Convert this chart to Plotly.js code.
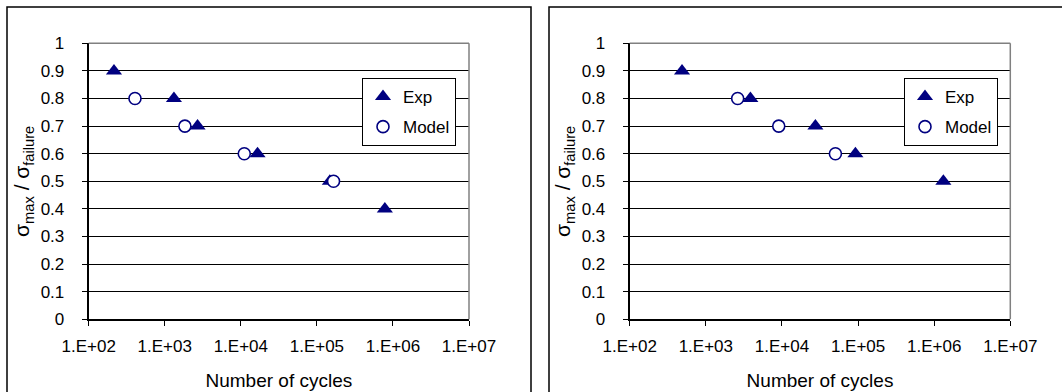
<!DOCTYPE html>
<html>
<head>
<meta charset="utf-8">
<script src="https://cdn.plot.ly/plotly-3.0.1.min.js"></script>
<style>html,body{margin:0;padding:0;background:#fff;}#chart{width:1062px;height:392px;}</style>
</head>
<body>
<div id="chart"></div>
<script>
// ---- data ----
const leftExpCycles   = [215, 1320, 2700, 16600, 148000, 783000];
const leftExpRatio    = [0.9, 0.8, 0.7, 0.6, 0.5, 0.4];
const leftModelCycles = [406, 1840, 11100, 165600];
const leftModelRatio  = [0.8, 0.7, 0.6, 0.5];

const rightExpCycles   = [487, 3850, 27500, 92300, 1320000];
const rightExpRatio    = [0.9, 0.8, 0.7, 0.6, 0.5];
const rightModelCycles = [2620, 9080, 50400];
const rightModelRatio  = [0.8, 0.7, 0.6];

const xTickVals = [1e2, 1e3, 1e4, 1e5, 1e6, 1e7];
const xTickText = ['1.E+02', '1.E+03', '1.E+04', '1.E+05', '1.E+06', '1.E+07'];
const yTickVals = [0, 0.1, 0.2, 0.3, 0.4, 0.5, 0.6, 0.7, 0.8, 0.9, 1];
const yTickText = ['0', '0.1', '0.2', '0.3', '0.4', '0.5', '0.6', '0.7', '0.8', '0.9', '1'];
const seriesNames = ['Exp', 'Model'];
const xTitle = 'Number of cycles';
const yTitle = 'σ<sub>max</sub> / σ<sub>failure</sub>';

// ---- styles ----
const NAVY = '#000080';
const FONT = 'Liberation Sans, Arial, sans-serif';
const W = 1062, H = 392;

function expTrace(x, y, xa, ya, lg) {
  return {x: x, y: y, xaxis: xa, yaxis: ya, type: 'scatter', mode: 'markers',
    name: seriesNames[0], legend: lg, legendgroup: 'a',
    marker: {symbol: 'triangle-up', size: 14, color: NAVY, line: {width: 0}}};
}
function modelTrace(x, y, xa, ya, lg) {
  return {x: x, y: y, xaxis: xa, yaxis: ya, type: 'scatter', mode: 'markers',
    name: seriesNames[1], legend: lg, legendgroup: 'b',
    marker: {symbol: 'circle', size: 12, color: '#ffffff', line: {width: 1.6, color: NAVY}}};
}

const data = [
  expTrace(leftExpCycles, leftExpRatio, 'x', 'y', 'legend'),
  modelTrace(leftModelCycles, leftModelRatio, 'x', 'y', 'legend'),
  expTrace(rightExpCycles, rightExpRatio, 'x2', 'y2', 'legend2'),
  modelTrace(rightModelCycles, rightModelRatio, 'x2', 'y2', 'legend2')
];

const yDom = [1 - 319.3 / H, 1 - 43.3 / H];

function xAxis(dom, anchor) {
  return {domain: dom, anchor: anchor, type: 'log', range: [2, 7],
    tickmode: 'array', tickvals: xTickVals, ticktext: xTickText,
    ticks: 'outside', ticklen: 5, tickwidth: 1, tickcolor: '#000',
    ticklabelstandoff: 6,
    showline: true, linecolor: '#000', linewidth: 1.5,
    showgrid: false, zeroline: false,
    tickfont: {family: FONT, size: 17, color: '#000'},
    title: {text: xTitle, font: {family: FONT, size: 19, color: '#000'}, standoff: 18}};
}
function yAxis(anchor) {
  return {domain: yDom, anchor: anchor, range: [0, 1],
    tickmode: 'array', tickvals: yTickVals, ticktext: yTickText,
    ticks: 'outside', ticklen: 5, tickwidth: 1, tickcolor: '#000',
    ticklabelstandoff: 14,
    showline: true, linecolor: '#000', linewidth: 2,
    showgrid: true, gridcolor: '#000', gridwidth: 1, zeroline: false,
    tickfont: {family: FONT, size: 17, color: '#000'},
    title: {text: yTitle, font: {family: FONT, size: 21, color: '#000'}, standoff: 5}};
}

function legendBox(xpx) {
  return {x: xpx / W, y: 1 - 78 / H, xanchor: 'left', yanchor: 'top',
    bgcolor: '#ffffff', bordercolor: '#000', borderwidth: 1,
    font: {family: FONT, size: 17, color: '#000'},
    itemwidth: 30, traceorder: 'grouped', tracegroupgap: 5};
}

const layout = {
  width: W, height: H, autosize: false,
  margin: {l: 0, r: 0, t: 0, b: 0, pad: 0},
  paper_bgcolor: '#ffffff', plot_bgcolor: '#ffffff',
  font: {family: FONT, color: '#000'},
  showlegend: true,
  xaxis: xAxis([88.7 / W, 469 / W], 'y'),
  yaxis: yAxis('x'),
  xaxis2: xAxis([629.7 / W, 1010.3 / W], 'y2'),
  yaxis2: yAxis('x2'),
  legend: legendBox(362),
  legend2: legendBox(904),
  shapes: [
    // outer chart frames
    {type: 'rect', xref: 'paper', yref: 'paper', x0: 7 / W, x1: 531 / W, y0: -0.2, y1: 1 - 7 / H,
      line: {color: '#000', width: 1.5}, layer: 'below'},
    {type: 'rect', xref: 'paper', yref: 'paper', x0: 549 / W, x1: 1.2, y0: -0.2, y1: 1 - 7 / H,
      line: {color: '#000', width: 1.5}, layer: 'below'},
    // gray top/right borders of plot areas
    {type: 'line', xref: 'x domain', yref: 'y domain', x0: 0, x1: 1, y0: 1, y1: 1, line: {color: '#808080', width: 1.5}},
    {type: 'line', xref: 'x domain', yref: 'y domain', x0: 1, x1: 1, y0: 0, y1: 1, line: {color: '#808080', width: 1.5}},
    {type: 'line', xref: 'x2 domain', yref: 'y2 domain', x0: 0, x1: 1, y0: 1, y1: 1, line: {color: '#808080', width: 1.5}},
    {type: 'line', xref: 'x2 domain', yref: 'y2 domain', x0: 1, x1: 1, y0: 0, y1: 1, line: {color: '#808080', width: 1.5}}
  ]
};

Plotly.newPlot('chart', data, layout, {displayModeBar: false, staticPlot: true});
</script>
</body>
</html>
